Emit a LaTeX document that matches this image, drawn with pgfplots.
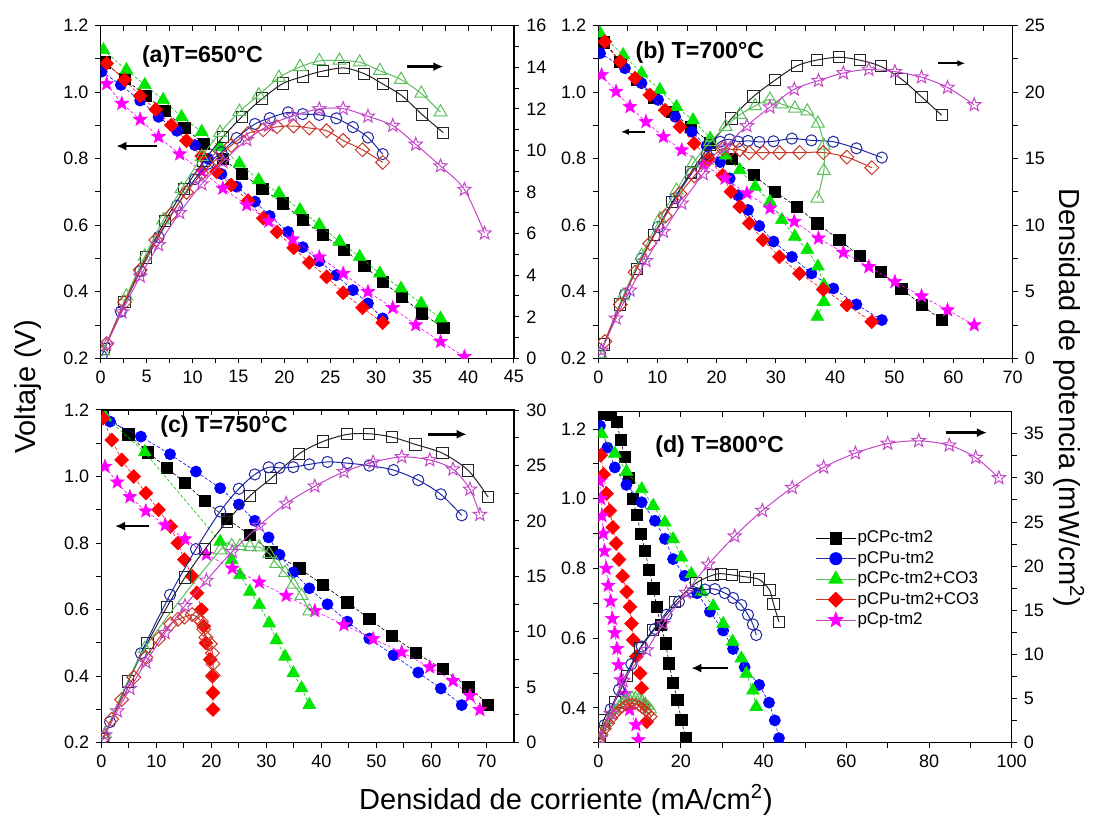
\documentclass[border=0pt]{standalone}
\usepackage{fontspec}
\setmainfont{Liberation Sans}
\usepackage{pgfplots}
\pgfplotsset{compat=1.18}
\usepackage{pgfplotstable}
\usetikzlibrary{arrows.meta}

\definecolor{cBl}{RGB}{0,0,255}
\definecolor{cGr}{RGB}{0,230,0}
\definecolor{cRd}{RGB}{255,0,0}
\definecolor{cMg}{RGB}{255,0,255}
\definecolor{oBk}{RGB}{35,35,35}
\definecolor{oBl}{RGB}{30,40,160}
\definecolor{oGr}{RGB}{90,190,90}
\definecolor{oRd}{RGB}{200,55,40}
\definecolor{oMg}{RGB}{195,70,200}

\newdimen\starin
\newcommand\starpath{%
  \starin=0.42\pgfplotmarksize
  \pgfpathmoveto{\pgfpointpolar{90}{\pgfplotmarksize}}%
  \pgfpathlineto{\pgfpointpolar{126}{\starin}}%
  \pgfpathlineto{\pgfpointpolar{162}{\pgfplotmarksize}}%
  \pgfpathlineto{\pgfpointpolar{198}{\starin}}%
  \pgfpathlineto{\pgfpointpolar{234}{\pgfplotmarksize}}%
  \pgfpathlineto{\pgfpointpolar{270}{\starin}}%
  \pgfpathlineto{\pgfpointpolar{306}{\pgfplotmarksize}}%
  \pgfpathlineto{\pgfpointpolar{342}{\starin}}%
  \pgfpathlineto{\pgfpointpolar{18}{\pgfplotmarksize}}%
  \pgfpathlineto{\pgfpointpolar{54}{\starin}}%
  \pgfpathclose}
\pgfdeclareplotmark{fstar}{\starpath\pgfusepathqfillstroke}
\pgfdeclareplotmark{ostar}{\starpath\pgfusepathqstroke}

\tikzset{
  plab/.style={anchor=west, inner sep=0pt, font=\bfseries\fontsize{11.6}{13}\selectfont},
  arrT/.style={-{Latex[length=5pt,width=4.5pt]}, line width=1.3pt, black},
  arrS/.style={-{Latex[length=4pt,width=3.2pt]}, line width=0.8pt, black},
}

\pgfplotsset{
  base/.style={scale only axis, clip marker paths=true, tick align=outside,
    major tick length=2.6pt, minor tick length=2.6pt,
    tick style={black, line width=0.5pt}, axis line style={black, line width=0.6pt, -},
    tick label style={font=\fontsize{9}{10}\selectfont, black},
    /pgf/number format/assume math mode=true,
    minor x tick num=1, minor y tick num=1},
  vax/.style={base, xtick pos=left, ytick pos=left,
    y tick label style={/pgf/number format/.cd, fixed, fixed zerofill, precision=1, /tikz/.cd}},
  pax/.style={base, axis x line*=top, axis y line*=right, xtick pos=right, ytick pos=right,
    xticklabels={},
    every major x tick/.append style={yshift=-2.6pt},
    every minor x tick/.append style={yshift=-2.6pt}},
  vline/.style={line width=0.3pt, dash pattern=on 1.6pt off 1pt},
  vBk/.style={vline, black, mark=square*, mark size=2.8pt, mark options={solid, fill=black, draw=black, line width=0.3pt}},
  vBl/.style={vline, cBl, mark=*, mark size=2.8pt, mark options={solid, fill=cBl, draw=cBl, line width=0.3pt}},
  vGr/.style={vline, cGr!85!black, mark=triangle*, mark size=3.7pt, mark options={solid, fill=cGr, draw=cGr, line width=0.3pt}},
  vRd/.style={vline, cRd, mark=square*, mark size=2.45pt, mark options={solid, rotate=45, fill=cRd, draw=cRd, line width=0.3pt}},
  vMg/.style={vline, cMg, mark=fstar, mark size=3.6pt, mark options={solid, fill=cMg, draw=cMg, line width=0.3pt}},
  pline/.style={solid, line width=0.5pt, smooth, tension=0.5},
  pBk/.style={pline, oBk, mark=square, mark size=2.8pt, mark options={solid, line width=0.5pt}},
  pBl/.style={pline, oBl, mark=o, mark size=2.8pt, mark options={solid, line width=0.5pt}},
  pGr/.style={pline, oGr, mark=triangle, mark size=3.7pt, mark options={solid, line width=0.5pt}},
  pRd/.style={pline, oRd, mark=square, mark size=2.45pt, mark options={solid, rotate=45, line width=0.5pt}},
  pMg/.style={pline, oMg, mark=ostar, mark size=3.5pt, mark options={solid, line width=0.5pt}},
}

% ---------- panel (a) 650 C : I (mA/cm2), V (V), P (mW/cm2)
\pgfplotstableread{
I V P
0.4 1.09 0.436
2.6 1.04 2.704
4.9 0.99 4.851
7.0 0.943 6.601
9.1 0.893 8.126
11.2 0.846 9.475
13.3 0.80 10.64
15.4 0.755 11.627
17.6 0.71 12.496
19.85 0.666 13.22
22.0 0.616 13.552
24.2 0.571 13.818
26.5 0.527 13.966
28.7 0.477 13.69
30.7 0.43 13.201
32.8 0.385 12.628
35.0 0.335 11.725
37.3 0.291 10.854
}\aBk
\pgfplotstableread{
I V P
0.1 1.062 0.106
2.2 1.022 2.248
4.3 0.975 4.193
6.3 0.926 5.834
8.3 0.884 7.337
10.25 0.841 8.62
11.7 0.80 9.36
13.15 0.754 9.915
14.8 0.716 10.597
16.8 0.671 11.273
18.4 0.628 11.555
20.4 0.580 11.832
22.0 0.534 11.748
23.8 0.492 11.71
25.65 0.450 11.543
27.46 0.405 11.121
29.1 0.365 10.622
30.7 0.320 9.824
}\aBl
\pgfplotstableread{
I V P
0.3 1.127 0.338
2.8 1.067 2.988
4.8 1.022 4.906
6.8 0.977 6.644
8.8 0.926 8.149
11.0 0.881 9.691
13.0 0.835 10.855
15.1 0.786 11.869
17.2 0.736 12.659
19.4 0.696 13.502
21.7 0.646 14.018
23.8 0.601 14.304
26.0 0.551 14.326
28.2 0.505 14.241
30.4 0.455 13.832
32.7 0.410 13.407
34.9 0.365 12.739
37.0 0.320 11.84
}\aGr
\pgfplotstableread{
I V P
0.65 1.087 0.707
2.6 1.037 2.696
4.3 0.989 4.253
6.0 0.948 5.688
7.7 0.901 6.938
9.35 0.854 7.985
11.0 0.808 8.888
12.6 0.761 9.589
14.2 0.721 10.238
16.05 0.674 10.818
17.7 0.621 10.992
19.2 0.580 11.136
21.0 0.532 11.172
22.7 0.488 11.078
24.6 0.445 10.947
26.4 0.397 10.481
28.5 0.352 10.032
30.7 0.307 9.425
}\aRd
\pgfplotstableread{
I V P
0.65 1.025 0.666
2.3 0.966 2.222
4.3 0.918 3.947
6.3 0.866 5.456
8.6 0.814 7.0
11.0 0.762 8.382
13.3 0.711 9.456
15.9 0.661 10.51
18.3 0.612 11.2
20.9 0.558 11.662
23.8 0.504 11.995
26.4 0.455 12.012
29.1 0.400 11.64
31.8 0.352 11.194
34.3 0.300 10.29
37.0 0.250 9.25
39.6 0.205 8.118
41.8 0.144 6.019
}\aMg

% ---------- panel (b) 700 C
\pgfplotstableread{
I V P
0.9 1.15 1.035
3.7 1.092 4.04
6.5 1.037 6.74
9.4 0.985 9.259
12.5 0.94 11.75
15.6 0.895 13.962
18.9 0.848 16.027
22.5 0.801 18.023
26.2 0.751 19.676
29.8 0.701 20.89
33.5 0.656 21.976
37.0 0.606 22.422
40.7 0.556 22.629
44.2 0.507 22.409
47.7 0.460 21.942
51.2 0.410 20.992
54.6 0.360 19.656
58.0 0.315 18.27
}\bBk
\pgfplotstableread{
I V P
0.3 1.117 0.335
4.5 1.072 4.824
7.3 1.027 7.497
10.1 0.977 9.868
13.0 0.926 12.038
15.8 0.881 13.92
18.3 0.838 15.335
20.6 0.79 16.274
22.2 0.741 16.45
23.6 0.69 16.284
25.3 0.646 16.344
27.2 0.598 16.266
29.6 0.551 16.31
32.7 0.505 16.514
36.0 0.455 16.38
39.7 0.410 16.277
43.6 0.362 15.783
47.9 0.315 15.089
}\bBl
\pgfplotstableread{
I V P
0.3 1.177 0.353
4.2 1.112 4.67
7.3 1.057 7.716
10.4 1.007 10.473
13.2 0.956 12.619
16.0 0.916 14.656
18.9 0.861 16.273
21.5 0.81 17.415
23.9 0.766 18.307
26.5 0.716 18.974
29.0 0.671 19.459
31.0 0.616 19.096
33.2 0.566 18.791
35.3 0.526 18.568
37.1 0.476 17.66
38.1 0.42 16.0
38.1 0.37 14.097
37.0 0.325 12.025
}\bGr
\pgfplotstableread{
I V P
1.1 1.152 1.267
3.7 1.092 4.04
6.2 1.042 6.46
8.7 0.992 8.63
11.3 0.946 10.69
13.8 0.896 12.365
16.2 0.846 13.705
18.6 0.801 14.899
21.0 0.750 15.75
22.4 0.701 15.702
23.9 0.656 15.678
25.5 0.606 15.453
27.8 0.556 15.457
30.6 0.505 15.453
34.0 0.455 15.47
38.0 0.407 15.466
42.0 0.360 15.12
46.2 0.310 14.322
}\bRd
\pgfplotstableread{
I V P
0.56 1.052 0.589
3.0 1.002 3.006
5.35 0.956 5.115
8.05 0.911 7.334
11.0 0.866 9.526
14.1 0.826 11.647
17.7 0.783 13.859
21.4 0.741 15.857
25.1 0.696 17.47
29.0 0.651 18.879
33.1 0.611 20.224
37.2 0.561 20.869
41.4 0.518 21.445
45.7 0.475 21.708
50.1 0.430 21.543
54.6 0.387 21.13
59.0 0.345 20.355
63.5 0.300 19.05
}\bMg

% ---------- panel (c) 750 C
\pgfplotstableread{
I V P
0.25 1.195 0.299
4.9 1.127 5.522
8.4 1.073 9.013
11.9 1.027 12.221
15.2 0.98 14.896
18.85 0.926 17.455
22.8 0.874 19.927
27.0 0.824 22.248
30.9 0.772 23.855
36.0 0.724 26.064
40.3 0.674 27.162
44.7 0.622 27.803
48.7 0.572 27.856
52.8 0.522 27.562
57.1 0.471 26.894
62.0 0.421 26.102
66.7 0.368 24.546
70.3 0.315 22.145
}\cBk
\pgfplotstableread{
I V P
0.4 1.185 0.474
1.6 1.165 1.864
7.2 1.12 8.064
12.5 1.067 13.338
17.2 1.015 17.458
21.6 0.965 20.844
25.0 0.916 22.9
27.9 0.867 24.189
30.4 0.817 24.837
32.4 0.765 24.786
34.9 0.712 24.849
37.8 0.664 25.099
41.1 0.616 25.318
44.7 0.564 25.211
48.7 0.513 24.983
53.1 0.463 24.585
57.6 0.411 23.674
61.7 0.363 22.397
65.5 0.313 20.502
}\cBl
\pgfplotstableread{
I V P
0.67 1.18 0.791
7.9 1.073 8.477
21.6 0.804 17.366
23.7 0.749 17.751
25.2 0.704 17.741
27.0 0.654 17.658
28.7 0.614 17.622
30.5 0.559 17.05
31.8 0.508 16.154
33.4 0.459 15.331
34.9 0.409 14.274
36.4 0.364 13.25
37.8 0.314 11.869
}\cGr
\pgfplotstableread{
I V P
0.3 1.175 0.353
1.9 1.11 2.109
3.7 1.05 3.885
5.9 1.0 5.9
8.1 0.95 7.695
10.4 0.9 9.36
12.6 0.85 10.71
13.9 0.80 11.12
15.1 0.75 11.325
16.5 0.70 11.55
17.4 0.65 11.31
18.2 0.60 10.92
18.6 0.55 10.23
19.0 0.50 9.5
19.8 0.45 8.91
20.2 0.40 8.08
20.3 0.35 7.105
20.3 0.30 6.09
}\cRd
\pgfplotstableread{
I V P
0.67 1.03 0.69
2.9 0.983 2.851
5.2 0.939 4.883
8.1 0.896 7.258
11.6 0.854 9.906
15.2 0.812 12.342
19.1 0.766 14.631
23.8 0.724 17.231
28.7 0.682 19.573
33.6 0.642 21.571
38.8 0.596 23.125
44.1 0.554 24.431
49.4 0.512 25.293
54.6 0.472 25.771
59.7 0.427 25.492
63.9 0.386 24.665
67.0 0.341 22.847
68.8 0.299 20.571
}\cMg

% ---------- panel (d) 800 C : voltage tables
\pgfplotstableread{
I V
1.2 1.245
3.0 1.24
4.4 1.22
5.4 1.17
6.4 1.12
7.4 1.06
8.3 1.0
9.3 0.955
10.3 0.90
11.3 0.85
12.3 0.796
13.3 0.743
14.1 0.69
15.1 0.638
16.3 0.585
17.1 0.528
18.1 0.472
19.1 0.423
20.1 0.365
21.1 0.313
}\dBkV
\pgfplotstableread{
I V
0.4 1.21
2.2 1.147
4.0 1.09
6.8 1.04
10.5 0.99
13.7 0.937
16.1 0.885
18.1 0.827
20.9 0.779
23.9 0.729
27.0 0.676
30.2 0.622
32.6 0.569
35.4 0.517
38.9 0.466
41.3 0.415
42.7 0.364
43.7 0.313
}\dBlV
\pgfplotstableread{
I V
0.8 1.186
4.0 1.13
6.8 1.078
10.5 1.028
13.3 0.98
16.1 0.932
18.1 0.884
20.1 0.832
22.5 0.784
25.0 0.733
27.8 0.692
30.2 0.641
32.5 0.59
34.6 0.542
35.8 0.498
37.4 0.45
38.2 0.403
}\dGrV
\pgfplotstableread{
I V
0.6 1.125
1.3 1.07
2.0 1.015
2.8 0.966
3.5 0.918
4.3 0.872
5.0 0.826
5.9 0.778
6.85 0.733
7.65 0.69
8.05 0.642
8.45 0.595
9.2 0.547
10.1 0.499
10.5 0.456
11.2 0.408
11.7 0.36
}\dRdV
\pgfplotstableread{
I V
0.3 1.05
0.6 1.0
0.9 0.951
1.2 0.9
1.5 0.85
1.9 0.80
2.4 0.751
3.0 0.706
3.4 0.656
4.0 0.615
4.5 0.570
4.9 0.523
5.5 0.48
6.5 0.44
7.6 0.395
9.1 0.351
9.7 0.308
}\dMgV
% panel (d) power tables
\pgfplotstableread{
I P
0.3 0.4
1.3 2.6
4.0 4.65
7.0 7.6
10.1 10.7
13.3 12.8
18.5 15.9
23.7 18.1
27.8 19.0
29.6 19.15
32.4 19.0
35.4 18.8
38.9 18.5
41.4 17.3
42.4 15.7
43.7 13.7
}\dBkP
\pgfplotstableread{
I P
0.3 0.3
1.5 2.0
3.0 3.8
5.0 6.0
8.0 8.9
10.5 10.9
13.7 12.9
16.5 14.5
19.5 16.0
22.9 17.1
25.8 17.35
28.2 17.4
30.6 16.95
32.6 16.4
34.6 15.6
36.2 14.5
37.4 13.4
38.2 12.2
}\dBlP
\pgfplotstableread{
I P
0.3 0.3
1.0 1.0
1.8 1.8
2.6 2.5
3.4 3.1
4.2 3.7
5.0 4.2
5.8 4.6
6.6 4.9
7.4 5.1
8.2 5.2
9.0 5.15
9.8 5.0
10.6 4.8
11.4 4.5
12.2 4.1
12.9 3.7
}\dGrP
\pgfplotstableread{
I P
0.3 0.3
1.0 0.9
1.8 1.6
2.6 2.2
3.4 2.8
4.2 3.3
5.0 3.7
5.8 4.0
6.6 4.25
7.4 4.4
8.2 4.45
9.0 4.4
9.8 4.2
10.6 3.9
11.4 3.6
12.2 3.3
12.9 2.95
}\dRdP
\pgfplotstableread{
I P
0.5 0.5
3.0 3.3
6.0 7.0
11.7 10.5
15.7 13.5
21.3 17.0
26.6 20.2
33.0 23.4
39.7 26.3
46.9 28.9
54.5 31.2
62.2 32.8
70.0 33.9
77.5 34.2
84.9 33.7
91.3 32.3
96.9 30.0
}\dMgP

\begin{document}
\begin{tikzpicture}
\useasboundingbox (0,0) rectangle (547pt,410pt);

% ================= (a)
\begin{axis}[vax, at={(50.35pt,230.85pt)}, anchor=south west, width=206.65pt, height=166.3pt,
  xmin=0, xmax=45, ymin=0.2, ymax=1.2, xtick={0,5,...,45}, ytick={0.2,0.4,0.6,0.8,1.0,1.2}]
\addplot[vBk] table[x=I,y=V]{\aBk};
\addplot[vBl] table[x=I,y=V]{\aBl};
\addplot[vGr] table[x=I,y=V]{\aGr};
\addplot[vRd] table[x=I,y=V]{\aRd};
\addplot[vMg] table[x=I,y=V]{\aMg};
\node[plab] at (rel axis cs:0.099,0.907) {(a)T=650°C};
\draw[arrT] (axis cs:6.1,0.838) -- (axis cs:1.7,0.838);
\draw[arrT] (axis cs:33.4,1.077) -- (axis cs:37.3,1.077);
\end{axis}
\begin{axis}[pax, at={(50.35pt,230.85pt)}, anchor=south west, width=206.65pt, height=166.3pt,
  xmin=0, xmax=45, ymin=0, ymax=16, xtick={0,5,...,45}, ytick={0,2,...,16}]
\addplot[pBk] table[x=I,y=P]{\aBk};
\addplot[pBl] table[x=I,y=P]{\aBl};
\addplot[pGr] table[x=I,y=P]{\aGr};
\addplot[pRd] table[x=I,y=P]{\aRd};
\addplot[pMg] table[x=I,y=P]{\aMg};
\end{axis}

% ================= (b)
\begin{axis}[vax, at={(299.15pt,230.85pt)}, anchor=south west, width=207.2pt, height=166.3pt,
  xmin=0, xmax=70, ymin=0.2, ymax=1.2, xtick={0,10,...,70}, ytick={0.2,0.4,0.6,0.8,1.0,1.2}]
\addplot[vBk] table[x=I,y=V]{\bBk};
\addplot[vBl] table[x=I,y=V]{\bBl};
\addplot[vGr] table[x=I,y=V]{\bGr};
\addplot[vRd] table[x=I,y=V]{\bRd};
\addplot[vMg] table[x=I,y=V]{\bMg};
\node[plab] at (rel axis cs:0.089,0.919) {(b) T=700°C};
\draw[arrS] (axis cs:7.9,0.881) -- (axis cs:3.8,0.881);
\draw[arrS] (axis cs:57.4,1.087) -- (axis cs:62.0,1.087);
\end{axis}
\begin{axis}[pax, at={(299.15pt,230.85pt)}, anchor=south west, width=207.2pt, height=166.3pt,
  xmin=0, xmax=70, ymin=0, ymax=25, xtick={0,10,...,70}, ytick={0,5,...,25}]
\addplot[pBk] table[x=I,y=P]{\bBk};
\addplot[pBl] table[x=I,y=P]{\bBl};
\addplot[pGr] table[x=I,y=P]{\bGr};
\addplot[pRd] table[x=I,y=P]{\bRd};
\addplot[pMg] table[x=I,y=P]{\bMg};
\end{axis}

% ================= (c)
\begin{axis}[vax, at={(50.65pt,38.65pt)}, anchor=south west, width=206.35pt, height=166.35pt,
  xmin=0, xmax=75, ymin=0.2, ymax=1.2, xtick={0,10,...,70}, ytick={0.2,0.4,0.6,0.8,1.0,1.2}]
\addplot[vBk] table[x=I,y=V]{\cBk};
\addplot[vBl] table[x=I,y=V]{\cBl};
\addplot[vGr] table[x=I,y=V]{\cGr};
\addplot[vRd] table[x=I,y=V]{\cRd};
\addplot[vMg] table[x=I,y=V]{\cMg};
\node[plab] at (rel axis cs:0.142,0.95) {(c) T=750°C};
\draw[arrT] (axis cs:8.7,0.851) -- (axis cs:2.5,0.851);
\draw[arrT] (axis cs:59.4,1.127) -- (axis cs:66.4,1.127);
\end{axis}
\begin{axis}[pax, at={(50.65pt,38.65pt)}, anchor=south west, width=206.35pt, height=166.35pt,
  xmin=0, xmax=75, ymin=0, ymax=30, xtick={0,10,...,70}, ytick={0,5,...,30}]
\addplot[pBk] table[x=I,y=P]{\cBk};
\addplot[pBl] table[x=I,y=P]{\cBl};
\addplot[pGr] table[x=I,y=P]{\cGr};
\addplot[pRd] table[x=I,y=P]{\cRd};
\addplot[pMg] table[x=I,y=P]{\cMg};
\end{axis}

% ================= (d)
\begin{axis}[vax, at={(299.15pt,38.65pt)}, anchor=south west, width=206.7pt, height=165.5pt,
  xmin=0, xmax=100, ymin=0.3, ymax=1.25, xtick={0,20,...,100},
  ytick={0.4,0.6,0.8,1.0,1.2}, minor y tick num=0, minor ytick={0.3,0.5,0.7,0.9,1.1},
  legend style={draw=none, fill=none, at={(0.524,0.645)}, anchor=north west,
    font=\fontsize{8.5}{10}\selectfont, inner sep=0pt, row sep=1.6pt,
    nodes={inner sep=0.6pt}},
  legend cell align=left,
  legend image code/.code={\draw[mark repeat=2, mark phase=2, #1] plot coordinates {(0pt,0pt) (10pt,0pt) (20pt,0pt)};}]
\addlegendimage{black, line width=0.5pt, mark=square*, mark size=2.9pt, mark options={fill=black}}
\addlegendentry{pCPc-tm2}
\addlegendimage{oBl, line width=0.5pt, mark=*, mark size=3pt, mark options={fill=cBl, draw=cBl}}
\addlegendentry{pCPu-tm2}
\addlegendimage{oGr, line width=0.5pt, mark=triangle*, mark size=3.9pt, mark options={fill=cGr, draw=cGr}}
\addlegendentry{pCPc-tm2+CO3}
\addlegendimage{oRd, line width=0.5pt, mark=square*, mark size=2.6pt, mark options={rotate=45, fill=cRd, draw=cRd}}
\addlegendentry{pCPu-tm2+CO3}
\addlegendimage{oMg, line width=0.5pt, mark=fstar, mark size=3.8pt, mark options={fill=cMg, draw=cMg}}
\addlegendentry{pCp-tm2}
\addplot[vBk, forget plot] table[x=I,y=V]{\dBkV};
\addplot[vBl, forget plot] table[x=I,y=V]{\dBlV};
\addplot[vGr, forget plot] table[x=I,y=V]{\dGrV};
\addplot[vRd, forget plot] table[x=I,y=V]{\dRdV};
\addplot[vMg, forget plot] table[x=I,y=V]{\dMgV};
\node[plab] at (rel axis cs:0.137,0.895) {(d) T=800°C};
\draw[arrT] (axis cs:31.4,0.514) -- (axis cs:22.5,0.514);
\draw[arrT] (axis cs:84.1,1.19) -- (axis cs:94.0,1.19);
\end{axis}
\begin{axis}[pax, at={(299.15pt,38.65pt)}, anchor=south west, width=206.7pt, height=165.5pt,
  xmin=0, xmax=100, ymin=0, ymax=37.5, xtick={0,20,...,100}, ytick={0,5,...,35}]
\addplot[pBk] table[x=I,y=P]{\dBkP};
\addplot[pBl] table[x=I,y=P]{\dBlP};
\addplot[pGr, mark size=2.8pt] table[x=I,y=P]{\dGrP};
\addplot[pRd, mark size=1.9pt] table[x=I,y=P]{\dRdP};
\addplot[pMg] table[x=I,y=P]{\dMgP};
\end{axis}

% ================= axis titles
\node[rotate=90, font=\fontsize{14.5}{16}\selectfont] at (14pt,216.5pt) {Voltaje (V)};
\node[rotate=-90, font=\fontsize{14.5}{16}\selectfont] at (534.5pt,211pt) {Densidad de potencia (mW/cm\textsuperscript{2})};
\node[font=\fontsize{14.5}{16}\selectfont] at (283pt,10pt) {Densidad de corriente (mA/cm\textsuperscript{2})};
\end{tikzpicture}
\end{document}
